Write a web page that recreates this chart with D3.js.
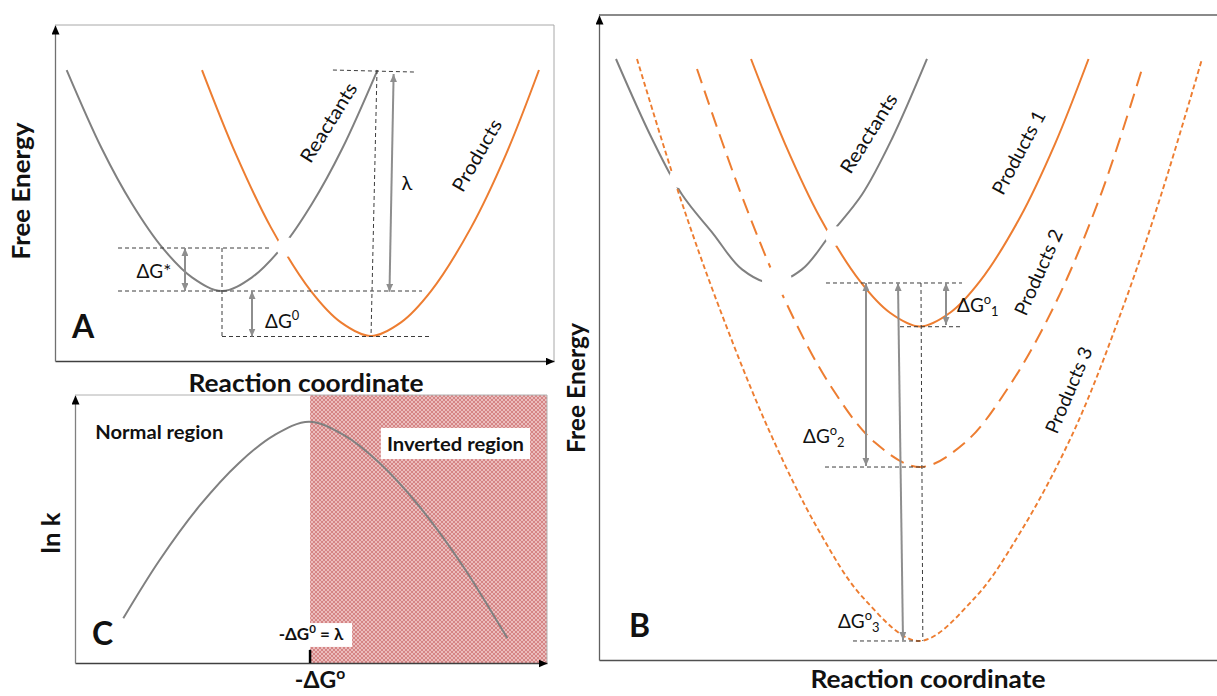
<!DOCTYPE html>
<html><head><meta charset="utf-8">
<script src="https://cdn.jsdelivr.net/npm/d3@7"></script>
<style>
html,body{margin:0;padding:0;background:#fff;}
svg{display:block;}
text{font-family:Lato,'Open Sans','DejaVu Sans',sans-serif;}
</style></head><body>
<svg id="chart" width="1217" height="696"></svg>
<script>
// ================= DATA (units: % of each panel's plot frame) =================
// Panel A – Marcus parabolas
const aReactants = [[2.34,86.6],[9.42,63.1],[15.43,46.8],[21.64,33.5],[27.45,24.9],[33.47,20.83],[39.48,24.9],[45.69,34.2],[51.5,46.8],[57.52,63.1],[64.63,86.6]];
const aProducts  = [[29.46,86.6],[36.27,61.5],[43.29,39.7],[51.3,20.8],[57.3,11.5],[63.33,7.44],[69.34,11.5],[75.35,20.8],[83.37,39.7],[90.38,61.5],[96.99,86.6]];
const aCrossings = [[46.3,33.9]];
const aGuides = [
  [[55.7,86.6],[72.0,86.0]],
  [[64.53,86.6],[63.33,7.44]],
  [[12.63,33.63],[43.49,33.63]],
  [[12.63,20.83],[73.55,20.83]],
  [[33.47,33.63],[33.47,7.14]],
  [[33.47,7.29],[75.15,7.29]]
];
const aArrows = [
  [[67.86,85.4],[67.03,20.6]],   // lambda
  [[26.05,33.63],[26.05,20.83]], // dG*
  [[39.48,20.83],[39.48,7.29]]   // dG0
];
const aCurveNames = ["Reactants","Products"];

// Panel B – three product parabolas
const bReactants = [[2.75,93.18],[8.58,80.81],[13.43,72.16],[18.45,66.12],[23.14,60.56],[27.99,58.45],[32.85,60.56],[37.54,66.12],[42.56,72.16],[47.41,80.81],[53.07,93.18]];
const bProducts1 = [[24.6,93.18],[30.1,80.02],[35.76,68.6],[42.23,58.73],[47.09,53.83],[51.94,51.71],[56.8,53.83],[61.65,58.73],[68.12,68.6],[73.79,80.02],[79.21,93.18]];
const bProducts2 = [[15.86,91.63],[22.82,72.67],[30.1,55.77],[37.38,42.64],[44.66,33.71],[51.94,29.92],[59.22,33.71],[66.5,42.64],[74.1,55.77],[81.4,72.67],[87.86,91.63]];
const bProducts3 = [[6.15,93.18],[12.94,72.25],[19.42,54.73],[27.51,35.61],[35.6,20.0],[42.88,9.5],[51.78,2.95],[60.68,9.5],[68.3,20.0],[76.9,35.61],[84.8,54.73],[91.0,72.25],[97.57,93.18]];
const bCrossings = [[12.94,74.73],[28.8,58.76],[38.19,65.74]];
const bGuides = [
  [[36.73,58.45],[58.74,58.45]],
  [[48.71,51.67],[58.74,51.67]],
  [[36.57,29.92],[52.75,29.92]],
  [[41.1,2.95],[52.43,2.95]],
  [[52.1,58.45],[52.4,2.95]]
];
const bArrows = [
  [[43.2,58.45],[43.2,30.08]],   // dG0_2
  [[48.38,58.45],[49.19,3.1]],   // dG0_3
  [[56.15,58.45],[56.15,51.94]]  // dG0_1
];
const bCurveNames = ["Reactants","Products 1","Products 2","Products 3"];

// Panel C – ln k vs -dG0
const cRate = [[10.23,16.68],[17.8,38.06],[26.27,58.4],[34.75,74.66],[42.16,84.96],[49.58,90.04],[56.99,85.0],[64.41,74.78],[72.88,58.58],[82.42,35.56],[91.61,9.22]];
const cLambda = 49.8; // -dG0 = lambda (start of inverted region)
const cRegionNames = ["Normal region","Inverted region"];

// ================= DRAWING =================
const svg = d3.select("#chart");
const GRAY = "#808080", ORANGE = "#ed7d31", GUIDE = "#3c3c3c", ARROW = "#8e8e8e";

const xA = d3.scaleLinear([0,100],[55,554]),  yA = d3.scaleLinear([0,100],[361,25]);
const xB = d3.scaleLinear([0,100],[599,1217]), yB = d3.scaleLinear([0,100],[660,15]);
const xC = d3.scaleLinear([0,100],[75,547]),  yC = d3.scaleLinear([0,100],[663,395]);

const defs = svg.append("defs");
function marker(id, color, w, h) {
  defs.append("marker").attr("id", id).attr("viewBox","0 0 10 10")
    .attr("refX",10).attr("refY",5).attr("markerUnits","userSpaceOnUse")
    .attr("markerWidth",w).attr("markerHeight",h).attr("preserveAspectRatio","none")
    .attr("orient","auto-start-reverse")
    .append("path").attr("d","M0,0L10,5L0,10Z").attr("fill",color);
}
marker("axArrow","#000",9,8);
marker("gArrow",ARROW,8,7);

const pat = defs.append("pattern").attr("id","hatch").attr("patternUnits","userSpaceOnUse")
  .attr("width",4).attr("height",4);
pat.append("rect").attr("width",4).attr("height",4).attr("fill","#ebbdbd");
pat.append("path").attr("d","M0,0L4,4M4,0L0,4").attr("stroke","#cf7676").attr("stroke-width",0.8);

// ---------- frames ----------
function frame(x, y, o) {
  const g = svg.append("g");
  g.append("line").attr("x1",x(0)).attr("x2",x(100)).attr("y1",y(100)).attr("y2",y(100))
    .attr("stroke",o.topColor).attr("stroke-width",o.topWidth);
  if (o.right) g.append("line").attr("x1",x(100)).attr("x2",x(100)).attr("y1",y(100)).attr("y2",y(0))
    .attr("stroke",o.topColor).attr("stroke-width",o.topWidth);
  const bx = g.append("g").attr("transform",`translate(0,${y(0)})`)
    .call(d3.axisBottom(x).tickValues([]).tickSizeOuter(0));
  bx.select(".domain").attr("stroke",o.bottomColor).attr("stroke-width",o.bottomWidth)
    .attr("marker-end", o.bottomArrow ? "url(#axArrow)" : null);
  const ly = g.append("g").attr("transform",`translate(${x(0)},0)`)
    .call(d3.axisLeft(y).tickValues([]).tickSizeOuter(0));
  ly.select(".domain").attr("stroke",o.leftColor).attr("stroke-width",1.3)
    .attr("marker-end","url(#axArrow)");
  return g;
}

// pink inverted region (C) drawn first
svg.append("rect").attr("x",xC(cLambda)).attr("y",yC(100))
  .attr("width",xC(100)-xC(cLambda)).attr("height",yC(0)-yC(100)).attr("fill","url(#hatch)");

frame(xA,yA,{topColor:"#a8a8a8",topWidth:1,right:true,bottomColor:"#404040",bottomWidth:1.3,bottomArrow:true,leftColor:"#707070"});
frame(xC,yC,{topColor:"#b0b0b0",topWidth:1,right:true,bottomColor:"#404040",bottomWidth:1.3,bottomArrow:true,leftColor:"#808080"});
frame(xB,yB,{topColor:"#8a8a8a",topWidth:2,right:false,bottomColor:"#505050",bottomWidth:1.5,bottomArrow:false,leftColor:"#606060"});

// ---------- curves ----------
function curve(data, x, y, color, dash, width) {
  const line = d3.line().x(d=>x(d[0])).y(d=>y(d[1])).curve(d3.curveCatmullRom.alpha(0.5));
  svg.append("path").datum(data).attr("d",line).attr("fill","none")
    .attr("stroke",color).attr("stroke-width",width||2).attr("stroke-dasharray",dash||null);
}
curve(aReactants,xA,yA,GRAY);
curve(aProducts,xA,yA,ORANGE);
curve(bReactants,xB,yB,GRAY);
curve(bProducts1,xB,yB,ORANGE);
curve(bProducts2,xB,yB,ORANGE,"15,8");
curve(bProducts3,xB,yB,ORANGE,"5,3",1.9);
curve(cRate,xC,yC,GRAY);

// gaps where curves cross
const gapR = {A:[10], B:[10,15,10]};
svg.selectAll(null).data(aCrossings).join("circle")
  .attr("cx",d=>xA(d[0])).attr("cy",d=>yA(d[1])).attr("r",(d,i)=>gapR.A[i]).attr("fill","#fff");
svg.selectAll(null).data(bCrossings).join("circle")
  .attr("cx",d=>xB(d[0])).attr("cy",d=>yB(d[1])).attr("r",(d,i)=>gapR.B[i]).attr("fill","#fff");

// ---------- guides and arrows ----------
function guides(data,x,y){
  svg.selectAll(null).data(data).join("line")
    .attr("x1",d=>x(d[0][0])).attr("y1",d=>y(d[0][1])).attr("x2",d=>x(d[1][0])).attr("y2",d=>y(d[1][1]))
    .attr("stroke",GUIDE).attr("stroke-width",1).attr("stroke-dasharray","4,3");
}
function arrows(data,x,y){
  svg.selectAll(null).data(data).join("line")
    .attr("x1",d=>x(d[0][0])).attr("y1",d=>y(d[0][1])).attr("x2",d=>x(d[1][0])).attr("y2",d=>y(d[1][1]))
    .attr("stroke",ARROW).attr("stroke-width",2)
    .attr("marker-start","url(#gArrow)").attr("marker-end","url(#gArrow)");
}
guides(aGuides,xA,yA); arrows(aArrows,xA,yA);
guides(bGuides,xB,yB); arrows(bArrows,xB,yB);

// C: tick at -dG0 = lambda
svg.append("line").attr("x1",xC(cLambda)).attr("x2",xC(cLambda)).attr("y1",yC(0)).attr("y2",yC(4.9))
  .attr("stroke","#000").attr("stroke-width",2.5);

// ---------- text ----------
function label(x, y, str, o={}) {
  const t = svg.append("text").attr("x",x).attr("y",y)
    .attr("font-size",o.size||19).attr("font-weight",o.bold?700:400)
    .attr("text-anchor",o.anchor||"start").attr("fill","#111");
  if (o.dom) t.attr("dominant-baseline",o.dom);
  if (o.rot) t.attr("transform",`rotate(${o.rot},${x},${y})`);
  if (o.len) t.attr("textLength",o.len).attr("lengthAdjust","spacingAndGlyphs");
  t.text(str);
  return t;
}
function dg(x, y, sup, sub, o={}) {
  const s = o.size||19;
  const t = svg.append("text").attr("x",x).attr("y",y).attr("font-size",s)
    .attr("font-weight",o.bold?700:400).attr("text-anchor",o.anchor||"start").attr("fill","#111");
  t.append("tspan").text((o.prefix||"")+"ΔG");
  t.append("tspan").attr("dy",-s*0.4).attr("font-size",s*0.68).text(sup);
  if (sub) t.append("tspan").attr("dy",s*0.62).attr("font-size",s*0.68).text(sub);
  if (o.suffix) t.append("tspan").attr("dy",s*0.4).text(o.suffix);
  return t;
}

// Panel A texts
label(30, 191, "Free Energy", {size:24,bold:true,anchor:"middle",rot:-90,len:137});
label(306, 392, "Reaction coordinate", {size:24,bold:true,anchor:"middle",len:235});
label(xA(3.4), yA(6.85), "A", {size:32,bold:true});
label(xA(54.7), yA(71.1), aCurveNames[0], {size:19,anchor:"middle",dom:"central",rot:-58,len:90});
label(xA(84.4), yA(61.3), aCurveNames[1], {size:19,anchor:"middle",dom:"central",rot:-60,len:80});
label(xA(70.5), yA(50.9), "λ", {size:20,anchor:"middle"});
label(xA(19.8), yA(24.7), "ΔG*", {size:19,anchor:"middle"});
dg(xA(42.1), yA(9.8), "0", null, {size:19});

// Panel C texts
svg.append("rect").attr("x",xC(64.8)).attr("y",yC(87.7)).attr("width",xC(96.4)-xC(64.8)).attr("height",yC(76.1)-yC(87.7)).attr("fill","#fff");
svg.append("rect").attr("x",xC(41.3)).attr("y",yC(14.9)).attr("width",xC(58.7)-xC(41.3)).attr("height",yC(6.0)-yC(14.9)).attr("fill","#fff");
label(60, 533, "ln k", {size:24,bold:true,anchor:"middle",rot:-90,len:41});
label(xC(4.3), yC(83.6), cRegionNames[0], {size:19,bold:true,len:128});
label(xC(66.1), yC(79.1), cRegionNames[1], {size:19,bold:true,len:137});
label(xC(3.6), yC(6.7), "C", {size:32,bold:true});
dg(xC(50), yC(8.6), "0", null, {size:17,bold:true,prefix:"-",suffix:" = λ",anchor:"middle"});
dg(xC(51.9), yC(0)+25, "o", null, {size:23,bold:true,prefix:"-",anchor:"middle"});

// Panel B texts
label(585, 388, "Free Energy", {size:24,bold:true,anchor:"middle",rot:-90,len:130});
label(928, 688, "Reaction coordinate", {size:24,bold:true,anchor:"middle",len:235});
label(xB(4.85), yB(3.57), "B", {size:32,bold:true});
label(xB(43.53), yB(81.71), bCurveNames[0], {size:19,anchor:"middle",dom:"central",rot:-58,len:90});
label(xB(67.8), yB(78.76), bCurveNames[1], {size:19,anchor:"middle",dom:"central",rot:-62,len:92});
label(xB(71.0), yB(60.16), bCurveNames[2], {size:19,anchor:"middle",dom:"central",rot:-66,len:92});
label(xB(75.9), yB(41.9), bCurveNames[3], {size:19,anchor:"middle",dom:"central",rot:-67,len:92});
dg(xB(57.93), yB(53.95), "o", "1", {size:19});
dg(xB(33.01), yB(33.64), "o", "2", {size:19});
dg(xB(38.67), yB(4.96), "o", "3", {size:19});
</script>
</body></html>
